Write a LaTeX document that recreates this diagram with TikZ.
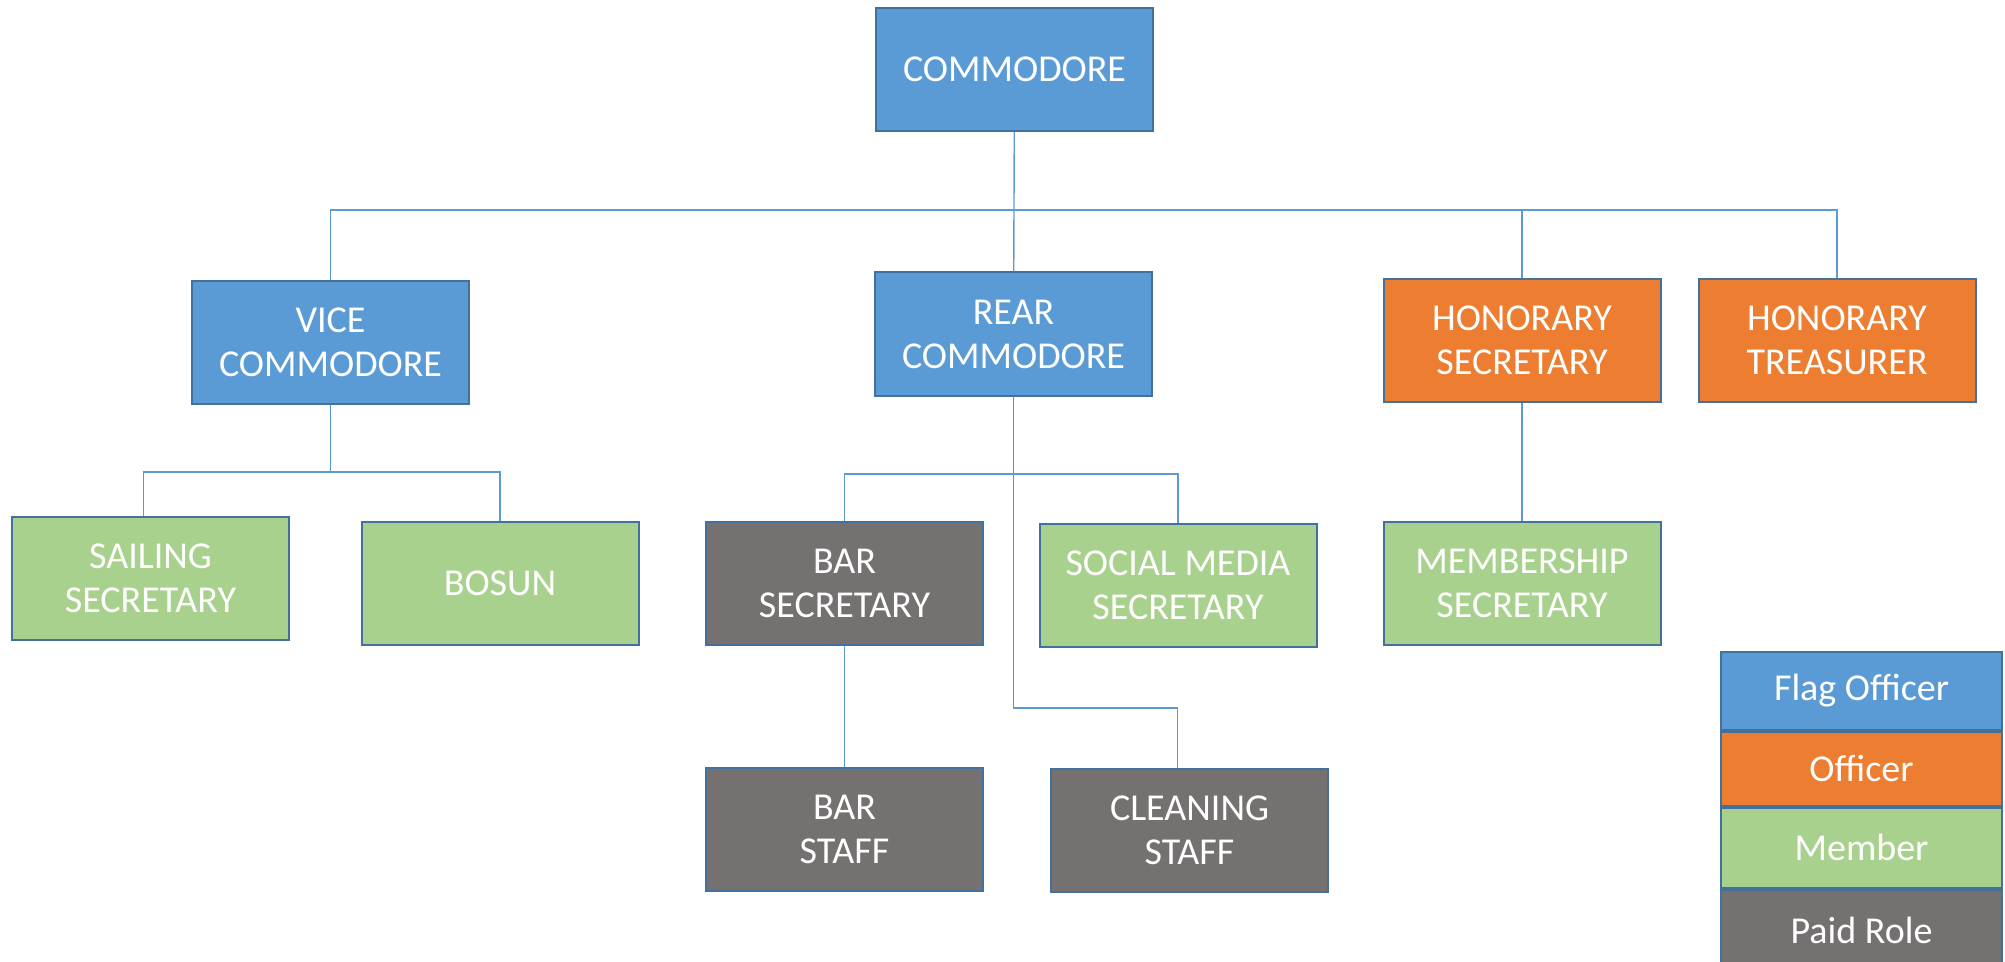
\documentclass[tikz,border=0pt]{standalone}
\usepackage{fontspec}
\setmainfont{Carlito}
\usetikzlibrary{positioning}
\definecolor{flagblue}{HTML}{5B9BD5}
\definecolor{offorange}{HTML}{ED7D31}
\definecolor{memgreen}{HTML}{A9D18E}
\definecolor{paidgrey}{HTML}{767171}
\definecolor{edgeblue}{HTML}{41719C}
\tikzset{
  role/.style={draw=edgeblue, line width=1pt, text=white, align=center, font=\fontsize{19}{22}\selectfont, minimum width=138.5pt, minimum height=61.5pt, inner sep=0pt},
  flag/.style={role, fill=flagblue},
  offc/.style={role, fill=offorange},
  memb/.style={role, fill=memgreen},
  paid/.style={role, fill=paidgrey},
  key/.style={role, minimum width=140.5pt, minimum height=39pt},
  link/.style={draw=flagblue, line width=0.7pt},
}

\begin{document}
\begin{tikzpicture}[x=0.5pt,y=-0.5pt]
  \useasboundingbox (0,0) rectangle (2005,962);
  % roles
  \node[flag] (comm)   at (1014.5,69.5) {COMMODORE};
  \node[flag] (vice)   at (330.5,342.5) {VICE\\COMMODORE};
  \node[flag] (rear)   at (1013.5,334)  {REAR\\COMMODORE};
  \node[offc] (hsec)   at (1522,340.5)  {HONORARY\\SECRETARY};
  \node[offc] (htre)   at (1837,340.5)  {HONORARY\\TREASURER};
  \node[memb] (sail)   at (150.5,578.5) {SAILING\\SECRETARY};
  \node[memb] (bosun)  at (500,583)     {BOSUN};
  \node[paid] (barsec) at (844.5,583)   {BAR\\SECRETARY};
  \node[memb] (social) at (1178,585)    {SOCIAL MEDIA\\SECRETARY};
  \node[memb] (member) at (1522,583)    {MEMBERSHIP\\SECRETARY};
  \node[paid] (barstf) at (844.5,829)   {BAR\\STAFF};
  \node[paid] (clean)  at (1189.5,830)  {CLEANING\\STAFF};
  % branch levels
  \coordinate (top)  at (0,210);
  \coordinate (vbar) at (0,472);
  \coordinate (rbar) at (0,474);
  \coordinate (low)  at (0,708);
  % connectors
  \draw[link] (comm) -- (rear);
  \draw[link] (vice.north) |- (top -| htre.north) -- (htre.north);
  \draw[link] (hsec.north) -- (hsec.north |- top);
  \draw[link] (vice.south) -- (vice.south |- vbar);
  \draw[link] ([xshift=-3.5pt]sail.north) |- (vbar -| bosun.north) -- (bosun.north);
  \draw[link] (barsec.north) |- (rbar -| social.north) -- (social.north);
  \draw[link] (rear.south) -- (rear.south |- low) -| ([xshift=-6pt]clean.north);
  \draw[link] (barsec) -- (barstf);
  \draw[link] (hsec) -- (member);
  % key (last row runs off the page)
  \node[key, fill=flagblue] (kflag) at (1861.5,690.5) {Flag Officer};
  \node[key, fill=offorange, minimum height=37pt, below=0pt of kflag] (koff) {Officer};
  \node[key, fill=memgreen, minimum height=40pt, below=0pt of koff] (kmem) {Member};
  \node[key, fill=paidgrey, minimum height=45pt, below=0pt of kmem] (kpaid) {\raisebox{4pt}{Paid Role}};
\end{tikzpicture}
\end{document}
